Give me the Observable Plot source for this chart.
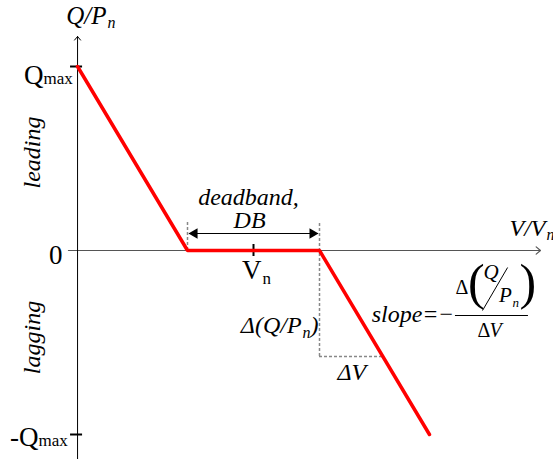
<!DOCTYPE html>
<html>
<head>
<meta charset="utf-8">
<script src="https://cdn.jsdelivr.net/npm/d3@7"></script>
<script src="https://cdn.jsdelivr.net/npm/@observablehq/plot@0.6"></script>
<style>
  html, body { margin: 0; padding: 0; background: #fff; }
</style>
</head>
<body>
<div id="chart"></div>
<script>
// Volt-var droop characteristic: reactive power Q/Pn versus voltage V/Vn
const voltage = [0.8667, 0.95, 1.05, 1.1333];   // V/Vn at the curve breakpoints
const reactive = [1, 0, 0, -1];                 // Q/Pn at the same breakpoints
const qTicks = [1, 0, -1];                      // Qmax, 0, -Qmax
const dbEdges = [0.95, 1.05];                   // deadband limits
const vNominal = 1;                             // Vn
const stepQ = -0.576;                           // depth of the slope triangle

const curve = voltage.map((v, i) => ({v, q: reactive[i]}));
const SERIF = "'Liberation Serif', 'Times New Roman', serif";
const vAxis = voltage[0];
const slope = (reactive[3] - reactive[2]) / (voltage[3] - voltage[2]);
const stepV = dbEdges[1] + stepQ / slope;

function note(str, x, y, o = {}) {
  return Plot.text([{x, y}], {
    x: "x", y: "y", text: () => str,
    lineAnchor: "bottom", fill: "black", fontFamily: SERIF, fontSize: 24, ...o
  });
}
const it = {fontStyle: "italic"};
// tall, narrow parentheses around Q/Pn in the slope formula
const delim = {textAnchor: "start", fontSize: 50, ariaLabel: "delimiter"};

const chart = Plot.plot({
  width: 553,
  height: 459,
  margin: 0,
  x: {domain: [0.80833, 1.22727], axis: null},
  y: {domain: [-1.13587, 1.3587], axis: null},
  style: {background: "#fff", fontFamily: SERIF},
  marks: [
    // axes with open arrowheads
    Plot.arrow([{x1: 0.8598, x2: 1.2174, y: 0}], {
      x1: "x1", x2: "x2", y1: "y", y2: "y",
      stroke: "#555", strokeWidth: 1.2, headLength: 7, headAngle: 80
    }),
    Plot.arrow([{x: vAxis, y1: -1.1359, y2: 1.163}], {
      x1: "x", x2: "x", y1: "y1", y2: "y2",
      stroke: "#000", strokeWidth: 1, headLength: 7, headAngle: 80
    }),
    // deadband edges and slope triangle
    Plot.ruleX([dbEdges[0]], {y1: 0, y2: 0.152, stroke: "#888", strokeWidth: 1.5, strokeDasharray: "3,2"}),
    Plot.ruleX([dbEdges[1]], {y1: stepQ, y2: 0.152, stroke: "#888", strokeWidth: 1.5, strokeDasharray: "3,2"}),
    Plot.ruleY([stepQ], {x1: dbEdges[1], x2: stepV, stroke: "#888", strokeWidth: 1.5, strokeDasharray: "3,2"}),
    // Q/Pn ticks
    Plot.ruleY(qTicks.filter(d => d !== 0), {x1: 0.8614, x2: 0.8705, stroke: "#000", strokeWidth: 2}),
    Plot.ruleX([vNominal], {y1: -0.0326, y2: 0.0326, stroke: "#000", strokeWidth: 2}),
    // droop curve
    Plot.line(curve, {x: "v", y: "q", stroke: "#ff0000", strokeWidth: 3.5, strokeLinejoin: "miter"}),
    // deadband double arrow
    Plot.link([{a: dbEdges[0] + 0.0012, b: dbEdges[1] - 0.0012, y: 0.0924}], {
      x1: "a", x2: "b", y1: "y", y2: "y", stroke: "#000", strokeWidth: 1.2
    }),
    Plot.dot([{x: 0.9553, y: 0.0924, r: -90}, {x: 1.0447, y: 0.0924, r: 90}], {
      x: "x", y: "y", rotate: "r", symbol: "triangle", r: 3.9, fill: "#000", stroke: "none"
    }),
    // axis titles
    note("Q/P", 0.8886, 1.2283, {...it, textAnchor: "end", fontSize: 25}),
    note("n", 0.8886, 1.2283, {...it, textAnchor: "start", fontSize: 16, dx: 1, dy: 4}),
    note("V/V", 1.2212, 0.0815, {...it, textAnchor: "end"}),
    note("n", 1.2212, 0.0815, {...it, textAnchor: "start", fontSize: 16, dx: 1, dy: 4}),
    // Q/Pn tick labels
    note("Q", 0.8409, 0.9076, {textAnchor: "end", fontSize: 27}),
    note("max", 0.8409, 0.9076, {textAnchor: "start", fontSize: 17}),
    note("0", 0.8553, -0.0707, {textAnchor: "end", fontSize: 27}),
    note("-Q", 0.8371, -1.0598, {textAnchor: "end", fontSize: 27}),
    note("max", 0.8371, -1.0598, {textAnchor: "start", fontSize: 17}),
    note("V", 1.0061, -0.1522, {textAnchor: "end", fontSize: 27}),
    note("n", 1.0061, -0.1522, {textAnchor: "start", fontSize: 17, dx: 1, dy: 5}),
    // region labels
    note("leading", 0.8379, 0.5326, {...it, textAnchor: "middle", rotate: -90}),
    note("lagging", 0.8379, -0.4728, {...it, textAnchor: "middle", rotate: -90}),
    // deadband label
    note("deadband,", 0.9962, 0.25, {...it, textAnchor: "middle"}),
    note("DB", 0.9970, 0.1196, {...it, textAnchor: "middle"}),
    // slope triangle labels
    note("Δ(Q/P", 1.0364, -0.4457, {...it, textAnchor: "end"}),
    note("n", 1.0364, -0.4457, {...it, textAnchor: "start", fontSize: 16, dx: 1, dy: 5}),
    note(")", 1.0364, -0.4457, {...it, textAnchor: "start", dx: 9}),
    note("ΔV", 1.0636, -0.7065, {...it, textAnchor: "start"}),
    // slope formula
    note("slope=", 1.1402, -0.3859, {...it, textAnchor: "end"}),
    note("−", 1.1402, -0.3859, {textAnchor: "start", dx: 1}),
    note("Δ", 1.1530, -0.2337, {textAnchor: "start", fontSize: 20}),
    note("(", 1.1625, -0.2663, delim),
    note(")", 1.2015, -0.2663, delim),
    note("Q", 1.1742, -0.1522, {...it, textAnchor: "start", fontSize: 21}),
    note("P", 1.1860, -0.2826, {...it, textAnchor: "start", fontSize: 21}),
    note("n", 1.1860, -0.2826, {...it, textAnchor: "start", fontSize: 13, dx: 13.5, dy: 5}),
    Plot.link([{x1: 1.1735, y1: -0.3261, x2: 1.1925, y2: -0.0924}], {
      x1: "x1", y1: "y1", x2: "x2", y2: "y2", stroke: "#000", strokeWidth: 1
    }),
    Plot.ruleY([-0.3533], {x1: 1.1530, x2: 1.2083, stroke: "#000", strokeWidth: 1}),
    note("Δ", 1.1697, -0.4728, {textAnchor: "start", fontSize: 20}),
    note("V", 1.1788, -0.4728, {...it, textAnchor: "start", fontSize: 20})
  ]
});

// squeeze the delimiters horizontally about their own anchor
d3.select(chart).selectAll('g[aria-label="delimiter"] text').each(function() {
  const t = d3.select(this);
  const px = t.attr("x") != null ? +t.attr("x") : +(/translate\(([-\d.]+)/.exec(t.attr("transform") || "") || [0, 0])[1];
  const prev = t.attr("transform") || "";
  t.attr("transform", `translate(${px},0) scale(0.55,1) translate(${-px},0) ${prev}`);
});

document.getElementById("chart").appendChild(chart);
</script>
</body>
</html>
